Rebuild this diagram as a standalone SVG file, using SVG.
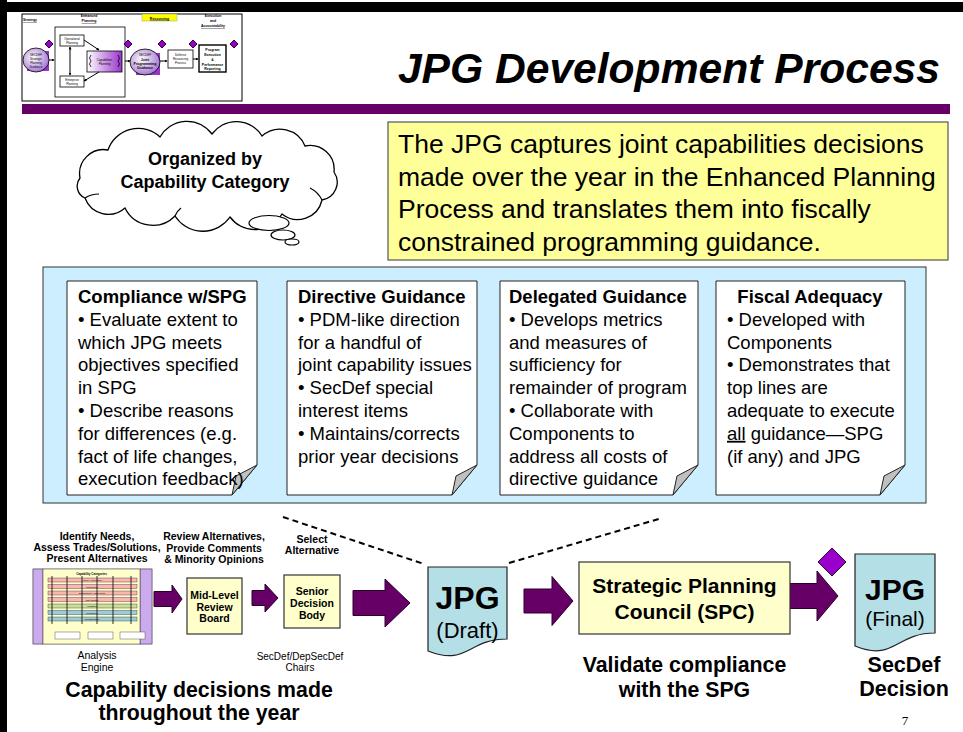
<svg xmlns="http://www.w3.org/2000/svg" width="963" height="732" viewBox="0 0 963 732">
<defs>
<style>
text{font-family:"Liberation Sans",Arial,sans-serif;fill:#000}
.b{font-weight:bold}
.note{fill:#fff;stroke:#222;stroke-width:1}
.fold{fill:#c0c0c0;stroke:#222;stroke-width:1}
.nt{font-size:18.5px}
.arr{fill:#660066;stroke:#2a002a;stroke-width:1}
.dia{fill:#9900cc;stroke:#2a002a;stroke-width:1}
.ybox{fill:#ffffcc;stroke:#333;stroke-width:1.2}
.doc{fill:#b5dfe6;stroke:#222;stroke-width:1.2}
.dash{stroke:#000;stroke-width:2;stroke-dasharray:6,4;fill:none}
.t{font-size:3px}
.tb{font-size:3.5px;font-weight:bold}
.tl{stroke:#000;stroke-width:1;fill:none}
</style>
<linearGradient id="pg" x1="0" y1="0" x2="1" y2="0">
<stop offset="0" stop-color="#ffffff"/><stop offset="1" stop-color="#9933cc"/>
</linearGradient>
<radialGradient id="og" cx="0.4" cy="0.4" r="0.7">
<stop offset="0" stop-color="#ffffff"/><stop offset="1" stop-color="#9966cc"/>
</radialGradient>
<marker id="ma" viewBox="0 0 6 6" refX="5" refY="3" markerWidth="3" markerHeight="3" orient="auto"><path d="M0,0 L6,3 L0,6 Z" fill="#000"/></marker>
<marker id="ms" viewBox="0 0 6 6" refX="1" refY="3" markerWidth="3" markerHeight="3" orient="auto"><path d="M6,0 L0,3 L6,6 Z" fill="#000"/></marker>
</defs>

<rect x="0" y="0" width="963" height="732" fill="#fff"/>
<g id="frame">
<rect x="0" y="2" width="963" height="10" fill="#000"/>
<rect x="0" y="0" width="7" height="732" fill="#000"/>
<rect x="22" y="104" width="928" height="10" fill="#660066"/>
</g>

<g id="thumbnail">
<rect x="22" y="14" width="220" height="87" fill="#fff" stroke="#000" stroke-width="1"/>
<text x="23" y="21" class="tb" text-decoration="underline">Strategy</text>
<text x="89" y="17" class="tb" text-anchor="middle">Enhanced</text>
<text x="89" y="22" class="tb" text-anchor="middle" text-decoration="underline">Planning</text>
<rect x="142" y="14" width="35" height="7" fill="#ffff00" stroke="#999" stroke-width="0.5"/>
<text x="159.5" y="19.5" class="tb" text-anchor="middle" text-decoration="underline">Resourcing</text>
<text x="213" y="17" class="tb" text-anchor="middle">Execution</text>
<text x="213" y="22" class="tb" text-anchor="middle">and</text>
<text x="213" y="27" class="tb" text-anchor="middle" text-decoration="underline">Accountability</text>
<rect x="55" y="27" width="70" height="70" fill="#fff" stroke="#000" stroke-width="0.8"/>
<rect x="60" y="35" width="24" height="11" fill="#fff" stroke="#000" stroke-width="0.8"/>
<text x="72" y="40" class="t" text-anchor="middle">Operational</text>
<text x="72" y="44" class="t" text-anchor="middle">Planning</text>
<rect x="60" y="76" width="24" height="11" fill="#fff" stroke="#000" stroke-width="0.8"/>
<text x="72" y="81" class="t" text-anchor="middle">Enterprise</text>
<text x="72" y="85" class="t" text-anchor="middle">Planning</text>
<rect x="87" y="51" width="35" height="21" fill="url(#pg)" stroke="#000" stroke-width="0.8"/>
<text x="104.5" y="61" class="t" text-anchor="middle">Capabilities</text>
<text x="104.5" y="65" class="t" text-anchor="middle">Planning</text>
<path d="M91,55 q-3,3 0,6 q-3,3 0,6 M118,55 q3,3 0,6 q3,3 0,6" fill="none" stroke="#000" stroke-width="0.8"/>
<rect x="27" y="51" width="22" height="20" fill="#9933cc"/>
<ellipse cx="36" cy="60" rx="13" ry="12" fill="url(#og)" stroke="#000" stroke-width="0.8"/>
<text x="36" y="56" class="t" text-anchor="middle">SECDEF</text>
<text x="36" y="60" class="t" text-anchor="middle">Strategic</text>
<text x="36" y="64" class="t" text-anchor="middle">Planning</text>
<text x="36" y="68" class="t" text-anchor="middle">Guidance</text>
<rect x="136" y="53" width="24" height="22" fill="#9933cc"/>
<ellipse cx="145" cy="62" rx="15" ry="13" fill="url(#og)" stroke="#000" stroke-width="0.8"/>
<text x="145" y="56" class="t" text-anchor="middle">SECDEF</text>
<text x="145" y="61" class="tb" text-anchor="middle">Joint</text>
<text x="145" y="65" class="tb" text-anchor="middle">Programming</text>
<text x="145" y="69" class="tb" text-anchor="middle">Guidance</text>
<rect x="168" y="50" width="25" height="18" fill="#fff" stroke="#000" stroke-width="0.8"/>
<text x="180.5" y="56" class="t" text-anchor="middle">Defense</text>
<text x="180.5" y="60" class="t" text-anchor="middle">Resourcing</text>
<text x="180.5" y="64" class="t" text-anchor="middle">Process</text>
<rect x="199" y="45" width="27" height="27" fill="#fff" stroke="#000" stroke-width="1.4"/>
<text x="212.5" y="51" class="tb" text-anchor="middle">Program</text>
<text x="212.5" y="56" class="tb" text-anchor="middle">Execution</text>
<text x="212.5" y="61" class="tb" text-anchor="middle">&amp;</text>
<text x="212.5" y="66" class="tb" text-anchor="middle">Performance</text>
<text x="212.5" y="70" class="tb" text-anchor="middle">Reporting</text>
<g class="tl">
<line x1="49" y1="60" x2="54" y2="60" marker-end="url(#ma)"/>
<line x1="70" y1="47" x2="70" y2="75" marker-end="url(#ma)" marker-start="url(#ms)"/>
<line x1="84" y1="40" x2="99" y2="50" marker-end="url(#ma)"/>
<line x1="99" y1="72" x2="84" y2="81" marker-end="url(#ma)"/>
<line x1="125" y1="61" x2="130" y2="61" marker-end="url(#ma)"/>
<line x1="160" y1="61" x2="167" y2="61" marker-end="url(#ma)"/>
<line x1="193" y1="59" x2="198" y2="59" marker-end="url(#ma)"/>
</g>
<g class="dia" stroke-width="0.6">
<path d="M49,40 l4,4 l-4,4 l-4,-4 Z"/>
<path d="M128,40 l4,4 l-4,4 l-4,-4 Z"/>
<path d="M162,40 l4,4 l-4,4 l-4,-4 Z"/>
<path d="M193,40 l4,4 l-4,4 l-4,-4 Z"/>
<path d="M234,40 l4,4 l-4,4 l-4,-4 Z"/>
</g>
</g>

<g id="title">
<text x="940" y="83" font-size="42.6" font-weight="bold" font-style="italic" text-anchor="end">JPG Development Process</text>
</g>

<g id="summary">
<rect x="388" y="122" width="560" height="138" fill="#ffff99" stroke="#555" stroke-width="1.2"/>
<text x="398" y="153" font-size="26.5">The JPG captures joint capabilities decisions</text>
<text x="398" y="186" font-size="26.5">made over the year in the Enhanced Planning</text>
<text x="398" y="218" font-size="26.5">Process and translates them into fiscally</text>
<text x="398" y="251" font-size="26.5">constrained programming guidance.</text>
</g>

<g id="cloud">
<path d="M80,178 A24,24 0 0 1 108,150 A32,32 0 0 1 160,137 A31,31 0 0 1 212,134 A30,30 0 0 1 262,136 A27,27 0 0 1 305,146 A24,24 0 0 1 334,172 A18,18 0 0 1 322,200 A25,25 0 0 1 282,214 A31,31 0 0 1 230,217 A33,33 0 0 1 175,216 A31,31 0 0 1 125,208 A25,25 0 0 1 85,198 A13,13 0 0 1 80,178 Z" fill="#fff" stroke="#000" stroke-width="1.3"/>
<path d="M85,198 q6,-4 14,-4 M322,200 q-4,-8 -12,-12 M175,216 q2,-5 6,-8" fill="none" stroke="#000" stroke-width="1.2"/>
<ellipse cx="269" cy="223" rx="20" ry="7.5" fill="#fff" stroke="#000" stroke-width="1.2"/>
<ellipse cx="283" cy="235" rx="12" ry="5" fill="#fff" stroke="#000" stroke-width="1.2"/>
<ellipse cx="292" cy="242" rx="7" ry="3" fill="#fff" stroke="#000" stroke-width="1.2"/>
<text x="205" y="165" font-size="18" class="b" text-anchor="middle">Organized by</text>
<text x="205" y="188" font-size="18" class="b" text-anchor="middle">Capability Category</text>
</g>

<g id="panel">
<rect x="43" y="267" width="883" height="236" fill="#cceeff" stroke="#333" stroke-width="1"/>
</g>

<g id="note-compliance">
<path class="note" d="M67,281 H257 V465 L232,495 H67 Z"/>
<path class="fold" d="M257,465 L232,495 L236,476 Z"/>
<text class="nt" x="78" y="303"><tspan class="b">Compliance w/SPG</tspan>
<tspan x="78" dy="22.8">• Evaluate extent to</tspan>
<tspan x="78" dy="22.8">which JPG meets</tspan>
<tspan x="78" dy="22.8">objectives specified</tspan>
<tspan x="78" dy="22.8">in SPG</tspan>
<tspan x="78" dy="22.8">• Describe reasons</tspan>
<tspan x="78" dy="22.8">for differences (e.g.</tspan>
<tspan x="78" dy="22.8">fact of life changes,</tspan>
<tspan x="78" dy="22.8">execution feedback)</tspan></text>
</g>

<g id="note-directive">
<path class="note" d="M287,281 H477 V465 L452,495 H287 Z"/>
<path class="fold" d="M477,465 L452,495 L456,476 Z"/>
<text class="nt" x="298" y="303"><tspan class="b">Directive Guidance</tspan>
<tspan x="298" dy="22.8">• PDM-like direction</tspan>
<tspan x="298" dy="22.8">for a handful of</tspan>
<tspan x="298" dy="22.8">joint capability issues</tspan>
<tspan x="298" dy="22.8">• SecDef special</tspan>
<tspan x="298" dy="22.8">interest items</tspan>
<tspan x="298" dy="22.8">• Maintains/corrects</tspan>
<tspan x="298" dy="22.8">prior year decisions</tspan></text>
</g>

<g id="note-delegated">
<path class="note" d="M500,281 H698 V465 L673,495 H500 Z"/>
<path class="fold" d="M698,465 L673,495 L677,476 Z"/>
<text class="nt" x="509" y="303"><tspan class="b">Delegated Guidance</tspan>
<tspan x="509" dy="22.8">• Develops metrics</tspan>
<tspan x="509" dy="22.8">and measures of</tspan>
<tspan x="509" dy="22.8">sufficiency for</tspan>
<tspan x="509" dy="22.8">remainder of program</tspan>
<tspan x="509" dy="22.8">• Collaborate with</tspan>
<tspan x="509" dy="22.8">Components to</tspan>
<tspan x="509" dy="22.8">address all costs of</tspan>
<tspan x="509" dy="22.8">directive guidance</tspan></text>
</g>

<g id="note-fiscal">
<path class="note" d="M716,281 H905 V465 L880,495 H716 Z"/>
<path class="fold" d="M905,465 L880,495 L884,476 Z"/>
<text class="nt b" x="810" y="303" text-anchor="middle">Fiscal Adequacy</text>
<text class="nt" x="727" y="325.8">• Developed with
<tspan x="727" dy="22.8">Components</tspan>
<tspan x="727" dy="22.8">• Demonstrates that</tspan>
<tspan x="727" dy="22.8">top lines are</tspan>
<tspan x="727" dy="22.8">adequate to execute</tspan>
<tspan x="727" dy="22.8" text-decoration="underline">all</tspan><tspan> guidance—SPG</tspan>
<tspan x="727" dy="22.8">(if any) and JPG</tspan></text>
</g>

<g id="connectors">
<line class="dash" x1="283" y1="517" x2="424" y2="564"/>
<line class="dash" x1="509" y1="563" x2="662" y2="518"/>
<path class="arr" d="M154,591.5 H172 V585 L182,599 L172,613 V606.5 H154 Z"/>
<path class="arr" d="M252,590.5 H265 V584 L278,598 L265,612 V605.5 H252 Z"/>
<path class="arr" d="M353,590.5 H385 V579 L410,603 L385,627 V615.5 H353 Z"/>
<path class="arr" d="M524,589 H552 V576.5 L573,601 L552,625.5 V613 H524 Z"/>
<path class="arr" d="M790,583.5 H817 V571 L838,596 L817,621 V608.5 H790 Z"/>
<path class="dia" d="M832,548 L846,562 L832,576 L818,562 Z"/>
</g>

<g id="analysis-engine">
<text x="97" y="540" font-size="10.5" class="b" text-anchor="middle">Identify Needs,</text>
<text x="97" y="551" font-size="10.5" class="b" text-anchor="middle">Assess Trades/Solutions,</text>
<text x="97" y="562" font-size="10.5" class="b" text-anchor="middle">Present Alternatives</text>
<rect x="33" y="569" width="119" height="75" fill="#fff" stroke="#666" stroke-width="0.5"/>
<rect x="33" y="569" width="10" height="75" fill="#ccaaee" stroke="#333" stroke-width="0.5"/>
<rect x="140" y="569" width="12" height="75" fill="#ccaaee" stroke="#333" stroke-width="0.5"/>
<rect x="43" y="569" width="97" height="75" fill="#ffffcc" stroke="#333" stroke-width="0.5"/>
<text x="91.5" y="575" font-size="3" class="b" text-anchor="middle">Capability Categories</text>
<g stroke="#333" stroke-width="0.4">
<rect x="48" y="578" width="89" height="4" fill="#ffb3b3"/>
<rect x="48" y="584.5" width="89" height="4" fill="#ffb3b3"/>
<rect x="48" y="591" width="89" height="4" fill="#ffb3b3"/>
<rect x="48" y="597.5" width="89" height="4" fill="#ffb3b3"/>
<rect x="48" y="604" width="89" height="4" fill="#ccdd99"/>
<rect x="48" y="610.5" width="89" height="4" fill="#99ccdd"/>
<rect x="48" y="617" width="89" height="4" fill="#99ccdd"/>
<path d="M52,576 V624 M67,576 V624 M82,576 V624 M97,576 V624 M113,576 V624 M131,576 V624" stroke="#000" stroke-width="0.8"/>
<rect x="55" y="632" width="25" height="7" fill="#fff"/>
<rect x="88" y="632" width="25" height="7" fill="#fff"/>
<rect x="120" y="632" width="25" height="7" fill="#fff"/>
</g>
<g font-size="2.5" text-anchor="middle">
<text x="92" y="581">Force Application</text>
<text x="92" y="587.5">Protection</text>
<text x="92" y="594">Battlespace Awareness</text>
<text x="92" y="600.5">Net-Centric</text>
<text x="92" y="607">Logistics</text>
<text x="92" y="613.5">Workforce</text>
<text x="92" y="620">Infrastructure</text>
</g>
<text x="97" y="659" font-size="10.5" text-anchor="middle">Analysis</text>
<text x="97" y="671" font-size="10.5" text-anchor="middle">Engine</text>
</g>

<g id="mid-level">
<text x="214" y="540" font-size="10.5" class="b" text-anchor="middle">Review Alternatives,</text>
<text x="214" y="552" font-size="10.5" class="b" text-anchor="middle">Provide Comments</text>
<text x="214" y="563" font-size="10.5" class="b" text-anchor="middle">&amp; Minority Opinions</text>
<rect class="ybox" x="187" y="578" width="55" height="56"/>
<text x="214.5" y="599" font-size="10.5" class="b" text-anchor="middle">Mid-Level</text>
<text x="214.5" y="611" font-size="10.5" class="b" text-anchor="middle">Review</text>
<text x="214.5" y="622" font-size="10.5" class="b" text-anchor="middle">Board</text>
</g>

<g id="senior">
<text x="312" y="543" font-size="10.5" class="b" text-anchor="middle">Select</text>
<text x="312" y="554" font-size="10.5" class="b" text-anchor="middle">Alternative</text>
<rect class="ybox" x="284" y="575" width="56" height="53"/>
<text x="312" y="595" font-size="10.5" class="b" text-anchor="middle">Senior</text>
<text x="312" y="607" font-size="10.5" class="b" text-anchor="middle">Decision</text>
<text x="312" y="619" font-size="10.5" class="b" text-anchor="middle">Body</text>
<text x="300" y="660" font-size="10" text-anchor="middle">SecDef/DepSecDef</text>
<text x="300" y="671" font-size="10" text-anchor="middle">Chairs</text>
</g>

<g id="caption-left">
<text x="199" y="697" font-size="21.3" class="b" text-anchor="middle">Capability decisions made</text>
<text x="199" y="720" font-size="21.3" class="b" text-anchor="middle">throughout the year</text>
</g>

<g id="jpg-draft">
<path class="doc" d="M428,567 H507 V639 C467.5,639 467.5,666.5 428,651 Z"/>
<text x="467.5" y="609" font-size="32" class="b" text-anchor="middle">JPG</text>
<text x="467.5" y="638" font-size="22" text-anchor="middle">(Draft)</text>
</g>

<g id="spc">
<rect class="ybox" x="579" y="562" width="211" height="72"/>
<text x="684.5" y="593" font-size="21" class="b" text-anchor="middle">Strategic Planning</text>
<text x="684.5" y="619" font-size="21" class="b" text-anchor="middle">Council (SPC)</text>
<text x="684.5" y="672" font-size="21.3" class="b" text-anchor="middle">Validate compliance</text>
<text x="684.5" y="697" font-size="21.3" class="b" text-anchor="middle">with the SPG</text>
</g>

<g id="jpg-final">
<path class="doc" d="M855,554 H935 V633 C895,633 895,662 855,646 Z"/>
<text x="895" y="600" font-size="30" class="b" text-anchor="middle">JPG</text>
<text x="895" y="626" font-size="21" text-anchor="middle">(Final)</text>
<text x="904" y="672" font-size="21.5" class="b" text-anchor="middle">SecDef</text>
<text x="904" y="696" font-size="21.5" class="b" text-anchor="middle">Decision</text>
</g>

<g id="page-number">
<text x="905" y="725" font-size="13" style="font-family:'Liberation Serif',serif" text-anchor="middle">7</text>
</g>
</svg>
